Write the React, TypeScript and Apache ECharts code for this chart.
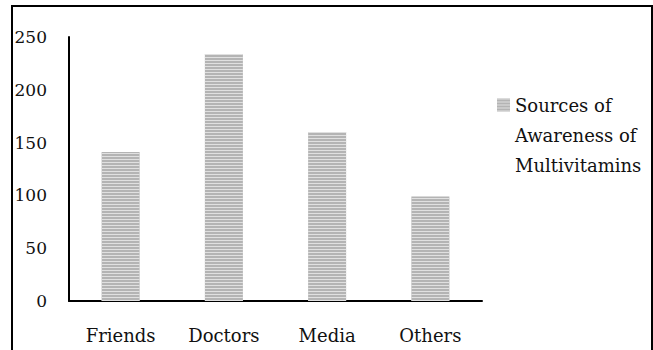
import React, { useEffect, useRef } from "react";
import * as echarts from "echarts";

const categories = ["Friends", "Doctors", "Media", "Others"];
const seriesName = "Sources of\nAwareness of\nMultivitamins";
const values = [141, 234, 160, 99];
const yMin = 0;
const yMax = 250;
const yInterval = 50;

const FONT = "DejaVu Serif";

export default function App() {
  const ref = useRef<HTMLDivElement>(null);
  useEffect(() => {
    if (!ref.current) return;
    const chart = echarts.init(ref.current, undefined, { renderer: "svg" });
    const decal = {
      symbol: "rect",
      symbolSize: 1,
      dashArrayX: [1, 0],
      dashArrayY: [1, 2],
      color: "#e0e0e0",
      rotation: 0,
    };
    chart.setOption({
      animation: false,
      backgroundColor: "#ffffff",
      graphic: [
        {
          type: "rect",
          shape: { x: 12, y: 6, width: 640, height: 370 },
          style: { fill: "none", stroke: "#000", lineWidth: 2 },
          silent: true,
          z: 0,
        },
      ],
      grid: { left: 69, right: 171, top: 37, bottom: 49, containLabel: false },
      legend: {
        show: true,
        left: 492,
        top: 85,
        orient: "vertical",
        itemWidth: 13,
        itemHeight: 73,
        itemGap: 0,
        icon: "path://M0,0H13V13H0Z M0,73",
        textStyle: {
          fontFamily: FONT,
          fontSize: 18,
          color: "#111",
          lineHeight: 30,
          padding: [0, 0, 0, 0],
        },
        data: [seriesName],
      },
      xAxis: {
        type: "category",
        data: categories,
        axisLine: { show: true, lineStyle: { color: "#000", width: 2 } },
        axisTick: { show: false },
        axisLabel: {
          fontFamily: FONT,
          fontSize: 18,
          color: "#111",
          margin: 25,
        },
      },
      yAxis: {
        type: "value",
        min: yMin,
        max: yMax,
        interval: yInterval,
        axisLine: { show: true, lineStyle: { color: "#000", width: 2 } },
        axisTick: { show: false },
        splitLine: { show: false },
        axisLabel: {
          fontFamily: FONT,
          fontSize: 17,
          color: "#111",
          margin: 22,
        },
      },
      series: [
        {
          name: seriesName,
          type: "bar",
          data: values,
          barWidth: 38,
          itemStyle: { color: "#b4b4b4", decal },
        },
      ],
    });
    return () => chart.dispose();
  }, []);
  return (
    <div
      ref={ref}
      style={{ position: "absolute", left: 0, top: 0, width: 653, height: 350 }}
    />
  );
}
